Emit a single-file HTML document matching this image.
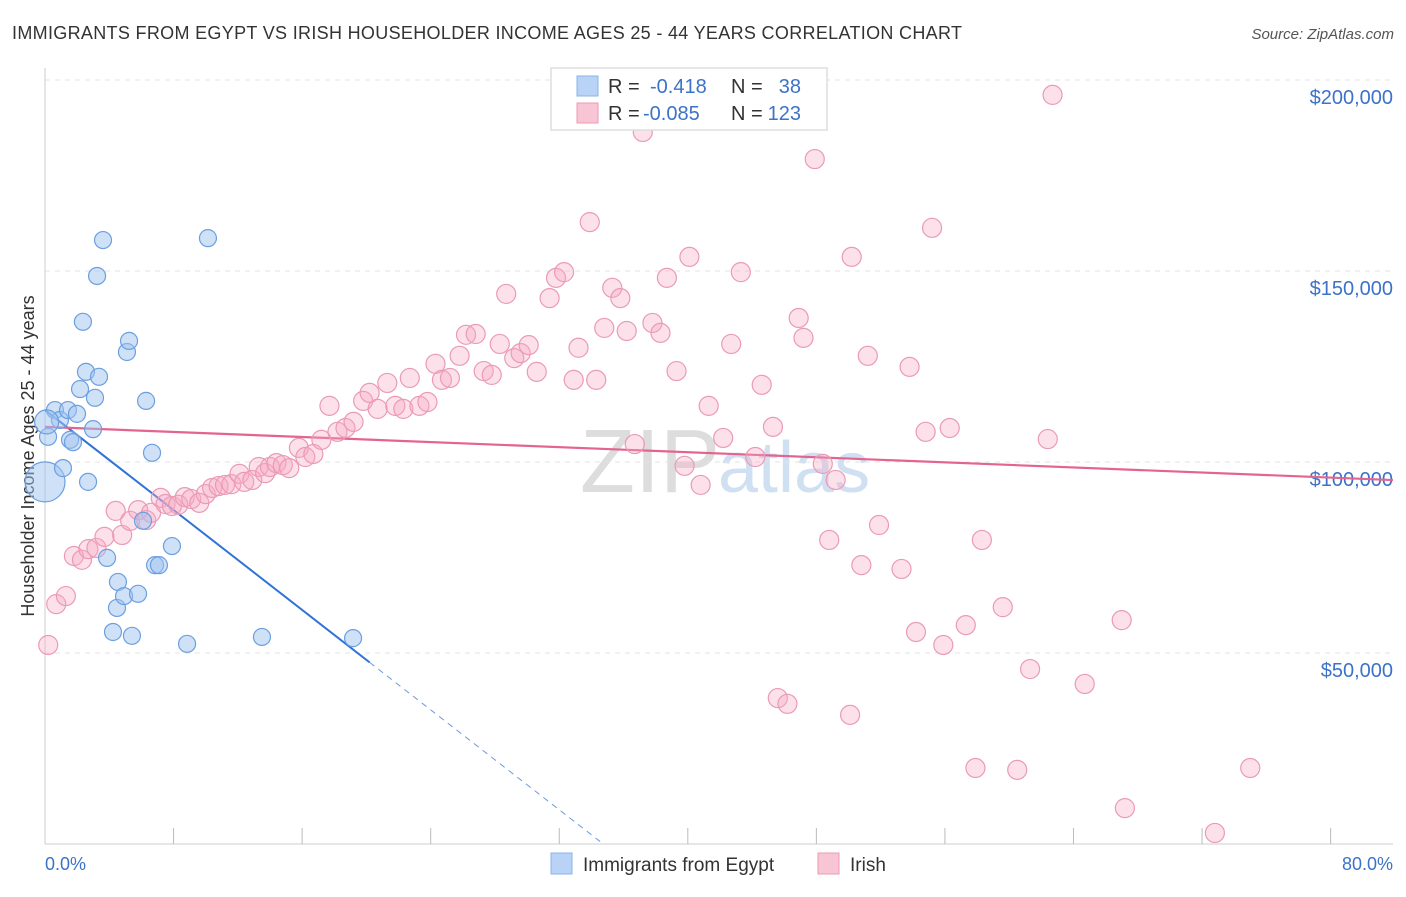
<!DOCTYPE html>
<html><head><meta charset="utf-8"><style>
body{margin:0;background:#fff;font-family:"Liberation Sans",sans-serif;}
svg text{font-family:"Liberation Sans",sans-serif;}
</style></head><body>
<svg id="c" width="1406" height="892">
<text x="12" y="39" font-size="18" fill="#333" textLength="950">IMMIGRANTS FROM EGYPT VS IRISH HOUSEHOLDER INCOME AGES 25 - 44 YEARS CORRELATION CHART</text>
<text x="1394" y="39" font-size="15" fill="#555" text-anchor="end" font-style="italic">Source: ZipAtlas.com</text>
<text x="0" y="0" transform="translate(34,456) rotate(-90)" font-size="18" fill="#333" text-anchor="middle">Householder Income Ages 25 - 44 years</text>
<text x="720" y="492" font-size="90" fill="#ddd" text-anchor="end" font-family="Liberation Serif">ZIP</text>
<text x="718" y="492" font-size="72" fill="#cfe0f3">atlas</text>
<g id="grid"></g><g id="trend"></g><g id="pts"></g>
<g>
<rect x="551" y="68" width="276" height="62" fill="#fff" stroke="#ddd" stroke-width="1.5"/>
<rect x="577" y="76" width="21" height="20" fill="#b8d3f5" stroke="#8ab4e8"/>
<rect x="577" y="103" width="21" height="20" fill="#f8c5d5" stroke="#ec9ab6"/>
<text x="608" y="93" font-size="20" fill="#333">R =</text>
<text x="650" y="93" font-size="20" fill="#3c72c8">-0.418</text>
<text x="731" y="93" font-size="20" fill="#333">N =</text>
<text x="801" y="93" font-size="20" fill="#3c72c8" text-anchor="end">38</text>
<text x="608" y="120" font-size="20" fill="#333">R =</text>
<text x="643" y="120" font-size="20" fill="#3c72c8">-0.085</text>
<text x="731" y="120" font-size="20" fill="#333">N =</text>
<text x="801" y="120" font-size="20" fill="#3c72c8" text-anchor="end">123</text>
</g>
<g>
<rect x="551" y="853" width="21" height="21" fill="#b8d3f5" stroke="#8ab4e8"/>
<text x="583" y="871" font-size="19" fill="#333">Immigrants from Egypt</text>
<rect x="818" y="853" width="21" height="21" fill="#f8c5d5" stroke="#ec9ab6"/>
<text x="850" y="871" font-size="19" fill="#333">Irish</text>
</g>
<text x="45" y="870" font-size="18" fill="#3c72c8">0.0%</text>
<text x="1393" y="870" font-size="18" fill="#3c72c8" text-anchor="end">80.0%</text>
</svg>
<script>
const yTicks=[50000,100000,150000,200000];
const yTickLabels=["$50,000","$100,000","$150,000","$200,000"];
const egyptX=[0,0.19,0.62,0.93,1.12,1.43,1.56,1.74,1.99,2.18,2.36,2.68,2.55,2.99,3.11,3.24,3.36,3.61,3.86,4.23,4.48,4.54,4.92,5.10,5.23,5.41,5.79,6.10,6.29,6.66,6.85,7.09,7.90,8.84,10.14,13.50,19.17,0.1];
const egyptY=[94.8,106.6,113.6,111.0,98.4,113.6,105.8,105.2,112.6,119.1,136.7,94.8,123.6,108.6,116.8,148.7,122.3,158.1,74.9,55.5,61.8,68.6,64.9,128.8,131.7,54.5,65.5,84.6,116.0,102.4,73.0,73.0,78.0,52.4,158.6,54.2,53.9,110.5];
const irishX=[0.2,0.7,1.3,1.8,2.3,2.7,3.2,3.7,4.4,4.8,5.3,5.8,6.3,6.6,7.2,7.5,7.9,8.3,8.7,9.1,9.6,10.0,10.4,10.8,11.2,11.6,12.1,12.4,12.9,13.3,13.7,14.0,14.4,14.8,15.2,15.8,16.2,16.7,17.2,17.7,18.2,18.7,19.2,19.8,20.2,20.7,21.3,21.8,22.3,22.7,23.3,23.8,24.3,24.7,25.2,25.8,26.2,26.8,27.3,27.8,28.3,28.7,29.2,29.6,30.1,30.6,31.4,31.8,32.3,32.9,33.2,33.9,34.3,34.8,35.3,35.8,36.2,36.7,37.2,37.8,38.3,38.7,39.3,39.8,40.1,40.8,41.3,41.8,42.2,42.7,43.3,44.2,44.6,45.3,45.6,46.2,46.9,47.2,47.9,48.4,48.8,49.2,50.1,50.2,50.8,51.2,51.9,53.3,53.8,54.2,54.8,55.2,55.9,56.3,57.3,57.9,58.3,59.6,60.5,61.3,62.4,62.7,64.7,67.0,67.2,72.8,75.0];
const irishY=[52.1,62.8,64.9,75.4,74.4,77.2,77.5,80.4,87.2,80.9,84.6,87.4,84.8,86.7,90.6,89.0,88.5,88.8,90.8,90.3,89.3,91.6,93.2,93.7,94.0,94.2,96.9,94.8,95.3,98.7,97.1,98.7,99.7,99.2,98.4,103.7,101.3,102.1,105.8,114.7,107.9,108.9,110.5,116.0,118.1,113.9,120.7,114.7,113.9,122.0,114.7,115.7,125.7,121.5,122.0,127.8,133.3,133.5,123.8,122.8,130.9,144.0,127.2,128.5,130.6,123.6,142.9,148.2,149.7,121.5,129.9,162.8,121.5,135.1,145.6,142.9,134.3,104.7,186.4,136.4,133.8,148.2,123.8,99.0,153.7,94.0,114.7,192.4,106.3,130.9,149.7,101.3,120.2,109.2,38.2,36.7,137.7,132.5,179.3,99.5,79.6,95.3,33.8,153.7,73.0,127.8,83.5,72.0,124.9,55.5,107.9,161.3,52.1,108.9,57.3,19.9,79.6,62.0,19.4,45.8,106.0,196.1,41.9,58.6,9.4,2.9,19.9];
const egyptTrend=[113.6,-3.27];
const irishTrend=[109.2,-0.166];
const NS="http://www.w3.org/2000/svg";
const X=p=>45+p*16.07, Y=v=>844-v*191/50;
function mk(t,a,parent){const e=document.createElementNS(NS,t);for(const k in a)e.setAttribute(k,a[k]);document.getElementById(parent).appendChild(e);return e;}
yTicks.forEach((v,i)=>{
 const l=mk('line',{x1:45,x2:1393,y1:Y(v/1000),y2:Y(v/1000),stroke:'#e3e3e3','stroke-dasharray':'5,5'},'grid');
 
 
 const t=mk('text',{x:1393,y:Y(v/1000)+24,'font-size':20,fill:'#3c72c8','text-anchor':'end'},'grid');
 t.textContent=yTickLabels[i];
 
 
});
mk('line',{x1:45,x2:45,y1:68,y2:844,stroke:'#ccc'},'grid');
mk('line',{x1:45,x2:1393,y1:844,y2:844,stroke:'#ccc'},'grid');
for(let i=1;i<=10;i++){const tk=mk('line',{x1:X(i*8),x2:X(i*8),y1:828,y2:844,stroke:'#bbb'},'grid');
 
 }
const eEnd=20.2, eZero=-egyptTrend[0]/egyptTrend[1];
const t1=mk('line',{x1:X(0),y1:Y(egyptTrend[0]),x2:X(eEnd),y2:Y(egyptTrend[0]+egyptTrend[1]*eEnd),stroke:'#2f72d8','stroke-width':2},'trend');


mk('line',{x1:X(eEnd),y1:Y(egyptTrend[0]+egyptTrend[1]*eEnd),x2:X(eZero),y2:Y(0),stroke:'#6d9be0','stroke-width':1,'stroke-dasharray':'6,5'},'trend');
const t2=mk('line',{x1:X(0),y1:Y(irishTrend[0]),x2:1393,y2:Y(irishTrend[0]+irishTrend[1]*(1348/16.07)),stroke:'#e3648e','stroke-width':2.2},'trend');


irishX.forEach((x,i)=>{const c=mk('circle',{cx:X(x),cy:Y(irishY[i]),r:9.5,fill:'rgba(245,170,195,0.35)',stroke:'#eb9ab6','stroke-width':1.2},'pts');
 
 });
egyptX.forEach((x,i)=>{const c=mk('circle',{cx:X(x),cy:Y(egyptY[i]),r:i==0?20:(i==37?12:8.5),fill:'rgba(160,195,240,0.5)',stroke:'#6c9fe0','stroke-width':1.2},'pts');
 
 });
</script>
</body></html>
